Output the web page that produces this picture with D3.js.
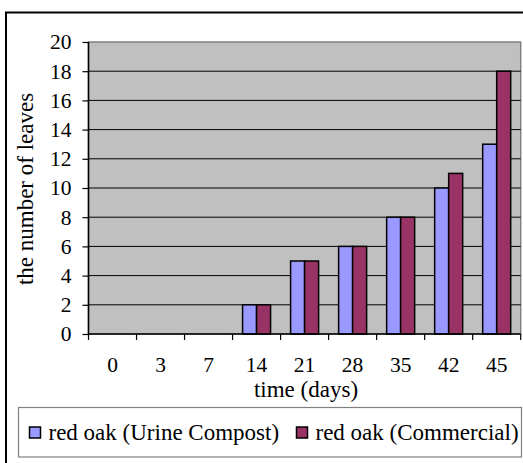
<!DOCTYPE html>
<html>
<head>
<meta charset="utf-8">
<script src="https://cdn.jsdelivr.net/npm/d3@7"></script>
<style>
  html, body { margin: 0; padding: 0; background: #fff; }
  svg { display: block; }
  text { font-family: "Liberation Serif", "Times New Roman", serif; fill: #000; }
</style>
</head>
<body>
<script>
const categories = ["0", "3", "7", "14", "21", "28", "35", "42", "45"];
const seriesNames = ["red oak (Urine Compost)", "red oak (Commercial)"];
const urineCompost = [0, 0, 0, 2, 5, 6, 8, 10, 13];
const commercial = [0, 0, 0, 2, 5, 6, 8, 11, 18];
const yTicks = [0, 2, 4, 6, 8, 10, 12, 14, 16, 18, 20];
const colors = ["#9999FF", "#993366"];
const xTitle = "time (days)";
const yTitle = "the number of leaves";

const W = 523, H = 463;
const plot = { left: 88.5, right: 520.7, top: 42, bottom: 334 };

const svg = d3.select("body").append("svg").attr("width", W).attr("height", H);

// outer frame
svg.append("rect").attr("x", 6).attr("y", 12.5).attr("width", W).attr("height", H)
  .attr("fill", "#fff").attr("stroke", "#000").attr("stroke-width", 2);

const x = d3.scaleBand().domain(categories).range([plot.left, plot.right]).padding(0);
const y = d3.scaleLinear().domain([0, 20]).range([plot.bottom, plot.top]);
const groupW = x.bandwidth() * 28 / 48;
const xs = d3.scaleBand().domain([0, 1]).range([0, groupW]).padding(0);

// plot background
svg.append("rect").attr("x", plot.left).attr("y", plot.top)
  .attr("width", plot.right - plot.left).attr("height", plot.bottom - plot.top)
  .attr("fill", "#C0C0C0").attr("stroke", "#808080").attr("stroke-width", 1.5);

// gridlines
svg.append("g").selectAll("line").data(yTicks.filter(d => d > 0 && d < 20)).join("line")
  .attr("x1", plot.left).attr("x2", plot.right)
  .attr("y1", d => y(d)).attr("y2", d => y(d))
  .attr("stroke", "#000").attr("stroke-width", 1);

// bars
const data = categories.map((c, i) => ({ c, vals: [urineCompost[i], commercial[i]] }));
const g = svg.append("g").selectAll("g").data(data).join("g")
  .attr("transform", d => `translate(${x(d.c) + (x.bandwidth() - groupW) / 2},0)`);
g.selectAll("rect").data(d => d.vals.map((v, k) => ({ v, k })).filter(e => e.v > 0)).join("rect")
  .attr("x", e => xs(e.k)).attr("width", xs.bandwidth())
  .attr("y", e => y(e.v)).attr("height", e => y(0) - y(e.v))
  .attr("fill", e => colors[e.k]).attr("stroke", "#000").attr("stroke-width", 1.5);

// y axis
const yAxis = d3.axisLeft(y).tickValues(yTicks).tickSize(6).tickPadding(11);
const ya = svg.append("g").attr("transform", `translate(${plot.left},0)`).call(yAxis);
ya.select(".domain").attr("stroke", "#000").attr("stroke-width", 1.5).attr("d", `M0,${plot.top}V${plot.bottom}`);
ya.selectAll(".tick line").attr("stroke", "#000").attr("stroke-width", 1.2);
ya.selectAll("text").attr("font-size", 21.5).attr("font-family", "Liberation Serif, serif").attr("fill", "#000");

// x axis
const xEdge = d3.scaleLinear().domain([0, categories.length]).range([plot.left, plot.right]);
const xa = svg.append("g");
xa.append("line").attr("x1", plot.left).attr("x2", plot.right)
  .attr("y1", plot.bottom).attr("y2", plot.bottom).attr("stroke", "#000").attr("stroke-width", 1.5);
xa.selectAll("line.tk").data(d3.range(categories.length + 1)).join("line").attr("class", "tk")
  .attr("x1", d => xEdge(d)).attr("x2", d => xEdge(d))
  .attr("y1", plot.bottom).attr("y2", plot.bottom + 6).attr("stroke", "#000").attr("stroke-width", 1.2);
xa.selectAll("text").data(categories).join("text")
  .attr("x", d => x(d) + x.bandwidth() / 2).attr("y", 372)
  .attr("text-anchor", "middle").attr("font-size", 21.5).text(d => d);

// axis titles
svg.append("text").attr("x", 306).attr("y", 397).attr("text-anchor", "middle")
  .attr("font-size", 23).text(xTitle);
svg.append("text").attr("transform", "translate(33,189) rotate(-90)")
  .attr("text-anchor", "middle").attr("font-size", 23).text(yTitle);

// legend
svg.append("rect").attr("x", 18.5).attr("y", 407.5).attr("width", 503).attr("height", 49.5)
  .attr("fill", "#fff").attr("stroke", "#808080").attr("stroke-width", 1.2);
const legX = [29.5, 296.5];
const lg = svg.append("g").selectAll("g").data(seriesNames).join("g")
  .attr("transform", (d, i) => `translate(${legX[i]},0)`);
lg.append("rect").attr("x", 0).attr("y", 427).attr("width", 11).attr("height", 11)
  .attr("fill", (d, i) => colors[i]).attr("stroke", "#000").attr("stroke-width", 1.5);
lg.append("text").attr("x", 19).attr("y", 440).attr("font-size", 23).text(d => d);
</script>
</body>
</html>
